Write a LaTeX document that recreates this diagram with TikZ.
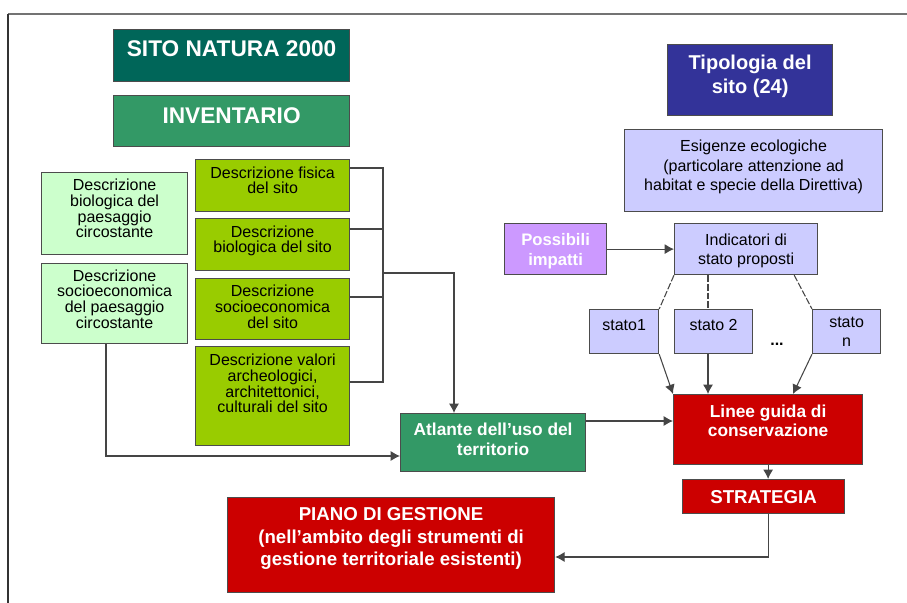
\documentclass[tikz,border=0pt]{standalone}
\usepackage{fontspec}
\setmainfont{Liberation Sans}
\usetikzlibrary{arrows.meta}

\definecolor{tealsito}{HTML}{006659}
\definecolor{verdeinv}{HTML}{339966}
\definecolor{verdino}{HTML}{CCFFCC}
\definecolor{limone}{HTML}{99CC00}
\definecolor{rosso}{HTML}{CC0000}
\definecolor{blusito}{HTML}{333399}
\definecolor{glicine}{HTML}{CCCCFF}
\definecolor{viola}{HTML}{CC99FF}
\definecolor{grigio}{HTML}{454545}

\begin{document}
\begin{tikzpicture}[x=0.75pt,y=-0.75pt,>={Latex[length=7pt,width=7.5pt]},
    box/.style={draw=black!70,line width=0.9pt,anchor=north west,inner sep=0pt,align=center},
    chiaro/.style={box,fill=verdino,font=\fontsize{12}{11.8}\selectfont},
    lime/.style={box,fill=limone,font=\fontsize{12}{11.8}\selectfont},
    lilla/.style={box,fill=glicine,font=\fontsize{12}{14.5}\selectfont},
    bianco/.style={box,text=white},
    linea/.style={draw=grigio,line width=0.8pt},
    tratto/.style={linea,dash pattern=on 5pt off 1.5pt}]
  \useasboundingbox (0,0) rectangle (907,603);
  %cornice
  \draw[line width=1.5pt,black!55] (8,13.5) -- (907,13.5);
  \draw[line width=0.8pt,black!80] (8,13.5) -- (8,603);

  %titoli
  \node[bianco,fill=tealsito,font=\bfseries\fontsize{17}{20}\selectfont,minimum width=177pt,minimum height=39pt,text depth=9.8pt] (sito) at (113,29) {SITO NATURA 2000};
  \node[bianco,fill=verdeinv,font=\bfseries\fontsize{17}{20}\selectfont,minimum width=177pt,minimum height=38.25pt,text depth=9pt] (inv) at (113,95) {INVENTARIO};

  %paesaggio circostante
  \node[chiaro,minimum width=109.5pt,minimum height=61.5pt,text depth=7.5pt] (biopaes) at (41,172) {Descrizione\\biologica del\\paesaggio\\circostante};
  \node[chiaro,minimum width=109.5pt,minimum height=60pt,text depth=6.8pt] (socpaes) at (41,263) {Descrizione\\socioeconomica\\del paesaggio\\circostante};

  %descrizioni del sito
  \node[lime,minimum width=115.5pt,minimum height=39pt,text depth=8.2pt] (fisica) at (195,159) {Descrizione fisica\\del sito};
  \node[lime,minimum width=115.5pt,minimum height=39pt,text depth=8.2pt] (biosito) at (195,218) {Descrizione\\biologica del sito};
  \node[lime,minimum width=115.5pt,minimum height=45.75pt,text depth=3.8pt] (socsito) at (195,278) {Descrizione\\socioeconomica\\del sito};
  \node[lime,minimum width=115.5pt,minimum height=74.25pt,text depth=18.8pt] (valori) at (195,346) {Descrizione valori\\archeologici,\\architettonici,\\culturali del sito};

  \node[bianco,fill=verdeinv,font=\bfseries\fontsize{13}{14.5}\selectfont,minimum width=138.75pt,minimum height=43.5pt,text depth=5.2pt] (atlante) at (400,413) {Atlante dell’uso del\\territorio};
  \node[bianco,fill=rosso,font=\bfseries\fontsize{14}{17}\selectfont,minimum width=245.25pt,minimum height=71.25pt,text depth=12.8pt] (piano) at (227,497) {PIANO DI GESTIONE\\(nell’ambito degli strumenti di\\gestione territoriale esistenti)};

  %parte destra
  \node[bianco,fill=blusito,font=\bfseries\fontsize{15}{17.5}\selectfont,minimum width=123.75pt,minimum height=53.25pt,text depth=9pt] (tipo) at (667,44) {Tipologia del\\sito (24)};
  \node[lilla,minimum width=193.5pt,minimum height=61.5pt,text depth=8pt] (esig) at (624,129) {Esigenze ecologiche\\(particolare attenzione ad\\habitat e specie della Direttiva)};
  \node[bianco,fill=viola,font=\bfseries\fontsize{12.5}{15}\selectfont,minimum width=76.5pt,minimum height=38.25pt,text depth=0pt] (poss) at (504,223) {Possibili\\impatti};
  \node[lilla,minimum width=107.25pt,minimum height=38.25pt,text depth=0pt] (indic) at (674,223) {Indicatori di\\stato proposti};
  \node[lilla,minimum width=51.75pt,minimum height=33pt,text depth=9.8pt] (stato1) at (589,309) {stato1};
  \node[lilla,minimum width=58.5pt,minimum height=33pt,text depth=9.8pt] (stato2) at (674,309) {stato 2};
  \node[lilla,minimum width=51pt,minimum height=33pt,text depth=0pt] (staton) at (812,309) {stato\\n};
  \node[anchor=base,inner sep=0pt,font=\bfseries\fontsize{12}{14}\selectfont] (punti) at (777,345) {...};
  \node[bianco,fill=rosso,font=\bfseries\fontsize{13}{14.5}\selectfont,minimum width=141.75pt,minimum height=52.5pt,text depth=13.5pt] (linee) at (673,394) {Linee guida di\\conservazione};
  \node[bianco,fill=rosso,font=\bfseries\fontsize{14}{17}\selectfont,minimum width=121.5pt,minimum height=25.5pt,text depth=0pt] (strat) at (682,479) {STRATEGIA};

  %collegamenti inventario
  \coordinate (snodo) at (383,273);
  \draw[linea] ([yshift=-6.75pt]fisica.north east) -| (snodo) |- ([yshift=-27pt]valori.north east);
  \draw[linea] ([yshift=-8.25pt]biosito.north east) -- ++(25.5pt,0);
  \draw[linea] ([yshift=-14.25pt]socsito.north east) -- ++(25.5pt,0);
  \draw[linea,->] (snodo) -| ([xshift=40.5pt]atlante.north west);
  \draw[linea,->] ([xshift=48.75pt]socpaes.south west) |- ([yshift=-32.25pt]atlante.north west);
  \coordinate (usc) at ([yshift=-6pt]atlante.north east);
  \draw[linea,->] (usc) -- (usc -| linee.west);

  %indicatori e stati
  \draw[linea,->] (poss) -- (indic);
  \coordinate (s2) at ([xshift=25.5pt]stato2.north west);
  \draw[tratto] (indic.south west) -- (stato1.north east);
  \draw[tratto] (s2 |- indic.south) -- (s2);
  \draw[tratto] ([xshift=-18pt]indic.south east) -- (staton.north west);
  \draw[linea,->] (stato1.south east) -- (linee.north west);
  \draw[linea,->] (s2 |- stato2.south) -- (s2 |- linee.north);
  \draw[linea,->] (staton.south west) -- ([xshift=90pt]linee.north west);

  %strategia e piano
  \draw[linea,->] (linee.south) -- (linee.south |- strat.north);
  \draw[linea,->] (linee.south |- strat.south) |- ([yshift=-45pt]piano.north east);
\end{tikzpicture}
\end{document}
